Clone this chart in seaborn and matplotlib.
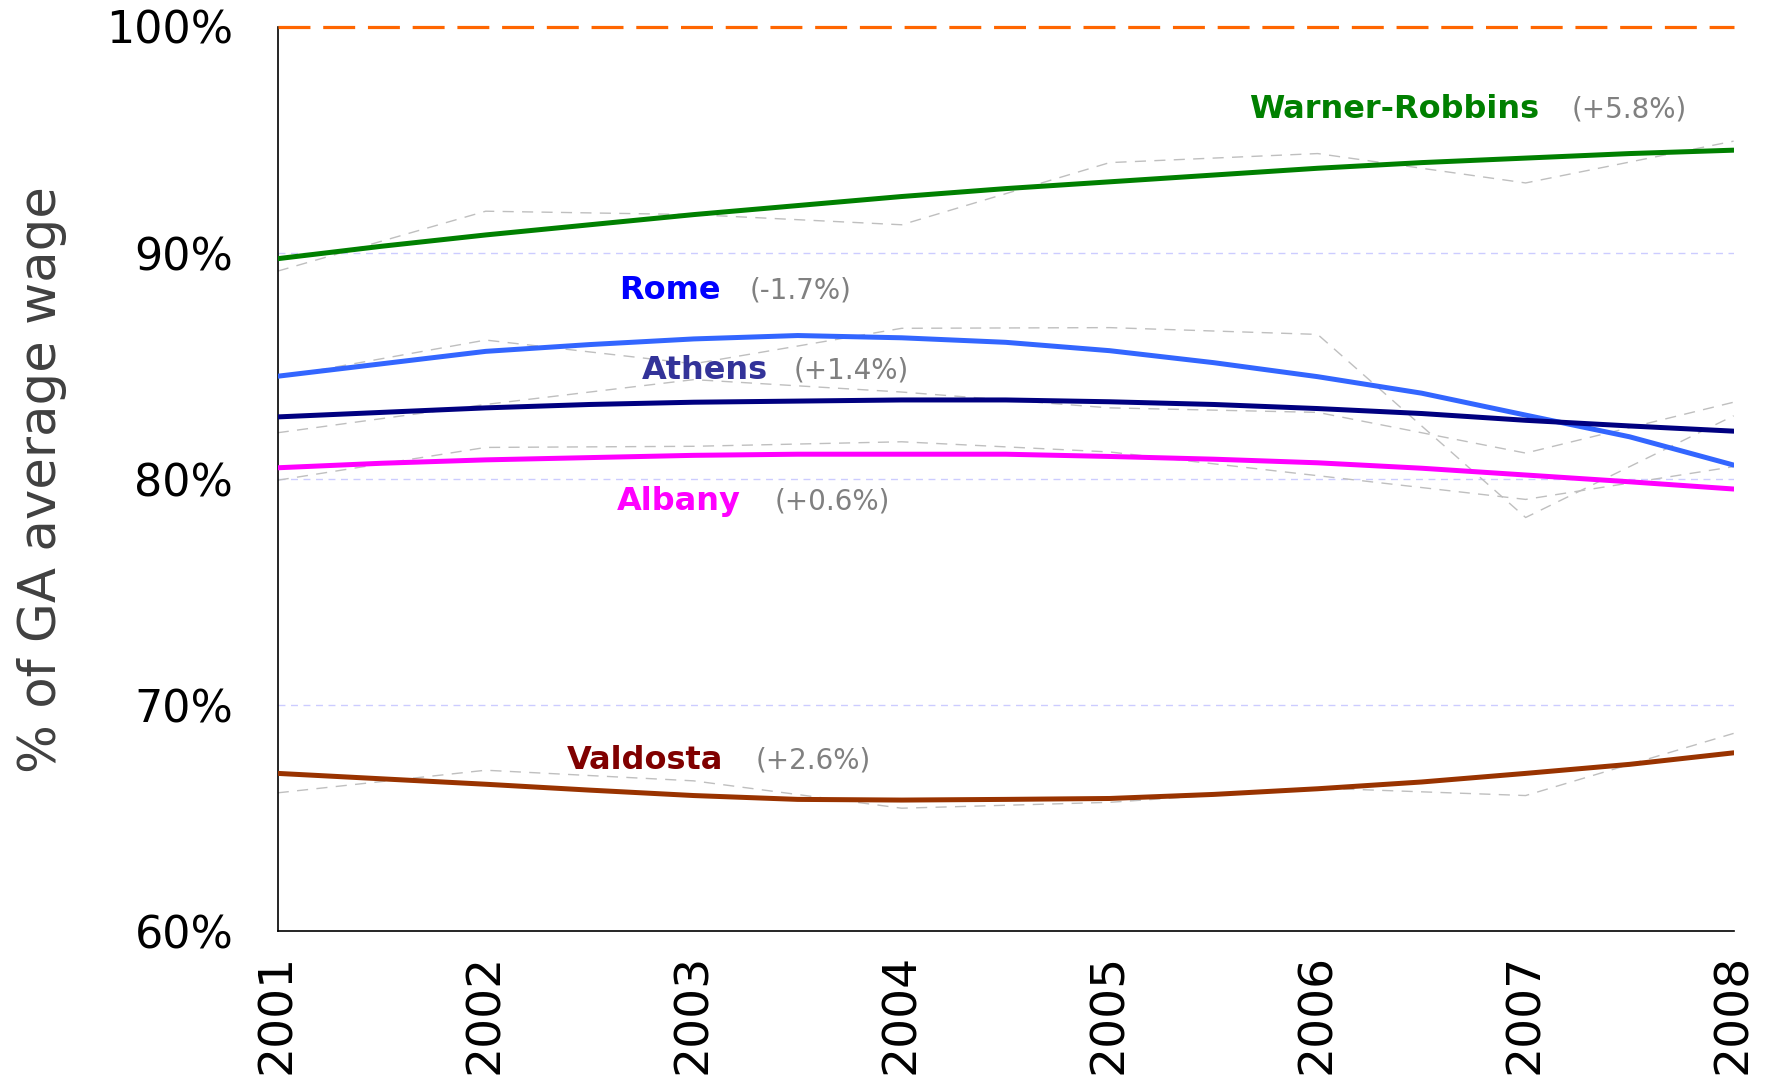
import numpy as np
import pandas as pd
import matplotlib
matplotlib.use("Agg")
import matplotlib.pyplot as plt
import seaborn as sns

# Data
years = [2001, 2002, 2003, 2004, 2005, 2006, 2007, 2008]
trendYears = [2001, 2001.5, 2002, 2002.5, 2003, 2003.5, 2004, 2004.5,
              2005, 2005.5, 2006, 2006.5, 2007, 2007.5, 2008]
cities = ["Warner-Robbins", "Rome", "Athens", "Albany", "Valdosta"]

# Raw yearly values (% of GA average wage)
rawWarner = [89.2, 91.85, 91.7, 91.25, 94.0, 94.4, 93.1, 94.95]
rawRome = [84.5, 86.15, 85.1, 86.67, 86.7, 86.4, 78.3, 82.8]
rawAthens = [82.05, 83.3, 84.4, 83.85, 83.15, 82.95, 81.15, 83.4]
rawAlbany = [79.95, 81.4, 81.45, 81.65, 81.2, 80.15, 79.1, 80.55]
rawValdosta = [66.12, 67.12, 66.65, 65.44, 65.7, 66.33, 66.0, 68.75]

# Trend lines
trendWarner = [89.75, 90.3, 90.8, 91.25, 91.7, 92.1, 92.5, 92.85,
               93.15, 93.45, 93.75, 94.0, 94.2, 94.4, 94.55]
trendRome = [84.55, 85.1, 85.65, 85.95, 86.2, 86.35, 86.25, 86.05,
             85.68, 85.15, 84.53, 83.8, 82.83, 81.87, 80.62]
trendAthens = [82.75, 82.95, 83.15, 83.3, 83.4, 83.45, 83.5, 83.5,
               83.42, 83.3, 83.12, 82.9, 82.6, 82.35, 82.12]
trendAlbany = [80.5, 80.7, 80.85, 80.95, 81.05, 81.1, 81.1, 81.1,
               81.0, 80.88, 80.72, 80.48, 80.18, 79.88, 79.56]
trendValdosta = [66.98, 66.74, 66.5, 66.24, 66.0, 65.83, 65.8, 65.83,
                 65.87, 66.05, 66.3, 66.6, 66.98, 67.38, 67.89]

changeLabels = ["(+5.8%)", "(-1.7%)", "(+1.4%)", "(+0.6%)", "(+2.6%)"]
nameX = [2005.67, 2002.64, 2002.75, 2002.63, 2002.39]
changeX = [2007.22, 2003.27, 2003.48, 2003.39, 2003.30]
labelY = [96.35, 88.35, 84.8, 79.0, 67.55]

lineColors = ["#008000", "#3366FF", "#000080", "#FF00FF", "#993300"]
labelColors = ["#008000", "#0000FF", "#333399", "#FF00FF", "#800000"]

# Build long tables
rawSeries = [rawWarner, rawRome, rawAthens, rawAlbany, rawValdosta]
trendSeries = [trendWarner, trendRome, trendAthens, trendAlbany, trendValdosta]
rawDf = pd.DataFrame([(c, y, v) for c, vals in zip(cities, rawSeries) for y, v in zip(years, vals)],
                     columns=["city", "year", "value"])
trendDf = pd.DataFrame([(c, y, v) for c, vals in zip(cities, trendSeries) for y, v in zip(trendYears, vals)],
                       columns=["city", "year", "value"])

# Style
sns.set_theme(style="white")
plt.rcParams["font.family"] = ["DejaVu Sans"]

fig = plt.figure(figsize=(17.69, 10.79), dpi=100)
ax = fig.add_axes([0.157, 0.137, 0.823, 0.838])

# Raw data (thin gray dashed)
sns.lineplot(data=rawDf, x="year", y="value", units="city", estimator=None,
             color="#BFBFBF", linewidth=1.0, dashes=False, ax=ax, zorder=2,
             linestyle=(0, (8, 6)))

# Trend lines
sns.lineplot(data=trendDf, x="year", y="value", hue="city", hue_order=cities,
             palette=lineColors, linewidth=3.6, ax=ax, legend=False, zorder=3)

# 100% reference line
ax.axhline(100, color="#FF6600", linewidth=2.3, dashes=(10, 4), clip_on=False, zorder=4)

# Grid
for g in [70, 80, 90]:
    ax.axhline(g, color="#CCCCFF", linewidth=1.0, dashes=(5, 4), zorder=1)

# Labels
for i in range(len(cities)):
    ax.text(nameX[i], labelY[i], cities[i], color=labelColors[i], fontsize=23,
            fontweight="bold", ha="left", va="center")
    ax.text(changeX[i], labelY[i], changeLabels[i], color="#808080", fontsize=20,
            ha="left", va="center")

ax.set_xlim(2001, 2008)
ax.set_ylim(60, 100)
ax.set_xticks(years)
ax.set_xticklabels([str(y) for y in years], rotation=90, fontsize=34)
ax.set_yticks([60, 70, 80, 90, 100])
ax.set_yticklabels([f"{v}%" for v in [60, 70, 80, 90, 100]], fontsize=32)
ax.tick_params(axis="y", direction="out", length=14, width=1.2, color="#808080",
               labelcolor="black", pad=18)
ax.tick_params(axis="x", direction="out", length=8, width=1.2, color="#404040",
               labelcolor="black", pad=8)
ax.set_xlabel("")
ax.set_ylabel("% of GA average wage", fontsize=37, color="#404040", labelpad=28)

for side in ["top", "right"]:
    ax.spines[side].set_visible(False)
for side in ["left", "bottom"]:
    ax.spines[side].set_color("black")
    ax.spines[side].set_linewidth(1.2)

plt.savefig("out.png", dpi=100)
plt.close()
